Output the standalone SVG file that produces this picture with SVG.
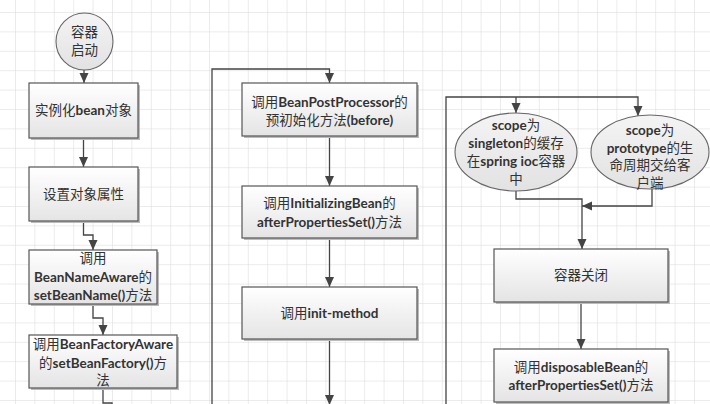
<svg xmlns="http://www.w3.org/2000/svg" width="710" height="404" viewBox="0 0 710 404">
<defs>
<pattern id="grid" x="15" y="12" width="19.4" height="19.4" patternUnits="userSpaceOnUse">
<path d="M0,0 H19.4 M0,0 V19.4" fill="none" stroke="#d8d8d8" stroke-width="1"/>
</pattern>
<linearGradient id="boxg" x1="0" y1="0" x2="0" y2="1">
<stop offset="0" stop-color="#ffffff"/>
<stop offset="1" stop-color="#e4e4e4"/>
</linearGradient>
<linearGradient id="ellg" x1="0" y1="0" x2="0" y2="1">
<stop offset="0" stop-color="#f4f4f4"/>
<stop offset="1" stop-color="#e2e2e2"/>
</linearGradient>
<marker id="arr" markerUnits="userSpaceOnUse" markerWidth="10" markerHeight="10" viewBox="0 0 10 10" refX="10" refY="5" orient="auto">
<path d="M0,0.5 L10,5 L0,9.5 z" fill="#444"/>
</marker>
<style>
.box{fill:url(#boxg);stroke:#555;stroke-width:1.2}
.sh{fill:#bbb}
.ell{fill:url(#ellg);stroke:#666;stroke-width:1.1}
.t{font-family:"Lato","Noto Sans CJK SC",sans-serif;font-size:13.5px;fill:#333;text-anchor:middle}
.b{font-weight:bold}
.c{fill:none;stroke:#444;stroke-width:1.3}
</style>
</defs>
<rect width="710" height="404" fill="#ffffff"/>
<rect width="710" height="404" fill="url(#grid)"/>

<g id="connectors">
<path class="c" d="M84,70 V83" marker-end="url(#arr)"/>
<path class="c" d="M83.5,138 V167" marker-end="url(#arr)"/>
<path class="c" d="M83.5,221 V235 H93 V250" marker-end="url(#arr)"/>
<path class="c" d="M93,304 V318 H103 V335" marker-end="url(#arr)"/>
<path class="c" d="M103,388 V403 H112 V410"/>
<path class="c" d="M212,410 V69 H329.5 V83" marker-end="url(#arr)"/>
<path class="c" d="M329.5,136 V186" marker-end="url(#arr)"/>
<path class="c" d="M329.5,238 V287" marker-end="url(#arr)"/>
<path class="c" d="M329.5,339 V405" marker-end="url(#arr)"/>
<path class="c" d="M446,410 V97 H638 V116" marker-end="url(#arr)"/>
<path class="c" d="M516,97 V113" marker-end="url(#arr)"/>
<path class="c" d="M516,191 V199 H582 V249" marker-end="url(#arr)"/>
<path class="c" d="M652,189 V206 H582" marker-end="url(#arr)"/>
<path class="c" d="M581,302 V349" marker-end="url(#arr)"/>
<path class="c" d="M581,402 V410"/>
</g>

<g id="start">
<circle cx="84.5" cy="41.5" r="28.5" class="ell"/>
<text class="t" x="84.5" y="37">容器</text>
<text class="t" x="84.5" y="55">启动</text>
</g>

<g id="instantiate">
<rect class="sh" x="31" y="85" width="109" height="55"/>
<rect class="box" x="29" y="83" width="109" height="55"/>
<text class="t" x="83.5" y="115">实例化<tspan class="b">bean</tspan>对象</text>
</g>

<g id="setProps">
<rect class="sh" x="31" y="169" width="109" height="54"/>
<rect class="box" x="29" y="167" width="109" height="54"/>
<text class="t" x="83.5" y="199">设置对象属性</text>
</g>

<g id="beanNameAware">
<rect class="sh" x="31" y="252" width="128" height="54"/>
<rect class="box" x="29" y="250" width="128" height="54"/>
<text class="t" x="93" y="263">调用</text>
<text class="t" x="93" y="282"><tspan class="b">BeanNameAware</tspan>的</text>
<text class="t" x="93" y="300"><tspan class="b">setBeanName()</tspan>方法</text>
</g>

<g id="beanFactoryAware">
<rect class="sh" x="31" y="337" width="148" height="53"/>
<rect class="box" x="29" y="335" width="148" height="53"/>
<text class="t" x="103" y="349">调用<tspan class="b">BeanFactoryAware</tspan></text>
<text class="t" x="103" y="368">的<tspan class="b">setBeanFactory()</tspan>方</text>
<text class="t" x="103" y="385">法</text>
</g>

<g id="postProcessorBefore">
<rect class="sh" x="244" y="85" width="175" height="53"/>
<rect class="box" x="242" y="83" width="175" height="53"/>
<text class="t" x="329.5" y="107">调用<tspan class="b">BeanPostProcessor</tspan>的</text>
<text class="t" x="329.5" y="125">预初始化方法<tspan class="b">(before)</tspan></text>
</g>

<g id="initializingBean">
<rect class="sh" x="244" y="188" width="175" height="52"/>
<rect class="box" x="242" y="186" width="175" height="52"/>
<text class="t" x="329.5" y="208">调用<tspan class="b">InitializingBean</tspan>的</text>
<text class="t" x="329.5" y="227"><tspan class="b">afterPropertiesSet()</tspan>方法</text>
</g>

<g id="initMethod">
<rect class="sh" x="244" y="289" width="175" height="52"/>
<rect class="box" x="242" y="287" width="175" height="52"/>
<text class="t" x="329.5" y="318">调用<tspan class="b">init-method</tspan></text>
</g>

<g id="singleton">
<ellipse class="ell" cx="516" cy="152" rx="61" ry="39"/>
<text class="t" x="516" y="130"><tspan class="b">scope</tspan>为</text>
<text class="t" x="516" y="148"><tspan class="b">singleton</tspan>的缓存</text>
<text class="t" x="516" y="166">在<tspan class="b">spring ioc</tspan>容器</text>
<text class="t" x="516" y="184">中</text>
</g>

<g id="prototype">
<ellipse class="ell" cx="650" cy="152" rx="59" ry="37"/>
<text class="t" x="650" y="135"><tspan class="b">scope</tspan>为</text>
<text class="t" x="650" y="153"><tspan class="b">prototype</tspan>的生</text>
<text class="t" x="650" y="170">命周期交给客</text>
<text class="t" x="650" y="188">户端</text>
</g>

<g id="containerClose">
<rect class="sh" x="496" y="251" width="174" height="53"/>
<rect class="box" x="494" y="249" width="174" height="53"/>
<text class="t" x="581" y="280">容器关闭</text>
</g>

<g id="disposableBean">
<rect class="sh" x="496" y="351" width="174" height="53"/>
<rect class="box" x="494" y="349" width="174" height="53"/>
<text class="t" x="581" y="372">调用<tspan class="b">disposableBean</tspan>的</text>
<text class="t" x="581" y="390"><tspan class="b">afterPropertiesSet()</tspan>方法</text>
</g>
</svg>
